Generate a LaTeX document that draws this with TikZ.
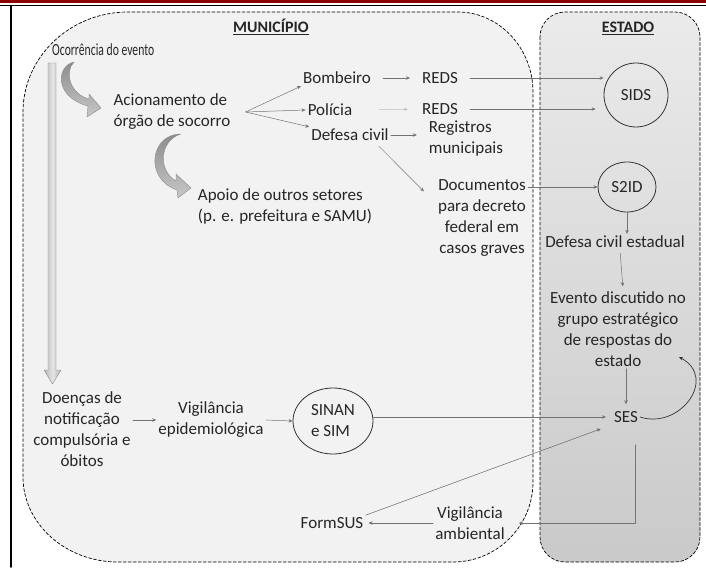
\documentclass[tikz,border=0pt]{standalone}
\usepackage{fontspec}
\setmainfont{Carlito}
\usetikzlibrary{arrows.meta,calc,shapes.geometric}

\begin{document}
\begin{tikzpicture}[x=1pt, y=-1pt, >={Stealth[length=4pt,width=3.5pt]},
	font=\fontsize{17}{21}\selectfont, line join=round, line cap=round,
	lbl/.style={text=black!85, inner sep=2pt},
	hdr/.style={lbl, font=\fontsize{16}{20}\selectfont\bfseries},
	flow/.style={->, draw=black!55, line width=0.5pt},
	sys/.style={lbl, draw=black!80, line width=0.8pt, ellipse, inner sep=1pt},
	fatarrow/.style={draw=black!45, line width=0.4pt}]
	\useasboundingbox (0,0) rectangle (706,567);
	% frame
	\fill[red!55!black] (0,0) rectangle (706,3.5);
	\draw[line width=1.5pt] (0,5.5) -- (706,5.5);
	\draw[line width=1.8pt] (11,5.5) -- (11,567);
	% areas
	\draw[densely dashed, line width=0.7pt, fill=black!5]
		(23,112) .. controls (23,57) and (70,12) .. (128,12) -- (458,12)
		.. controls (499,12) and (533,48) .. (533,92) -- (533,482)
		.. controls (533,526) and (497,562) .. (453,562) -- (118,562)
		.. controls (66,562) and (23,524) .. (23,477) -- cycle;
	\draw[densely dashed, line width=0.7pt, rounded corners=25pt, top color=black!8, bottom color=black!21]
		(540,12) rectangle (700,562);
	% big arrows
	\draw[fatarrow, left color=black!30, right color=black!30, middle color=black!10]
		(48,63) -- (56,63) -- (56,370) -- (61,370) -- (52.5,384) -- (44,370) -- (48,370) -- cycle;
	\draw[fatarrow, top color=black!45, bottom color=black!22]
		(74,62) .. controls (56,66) and (54,97) .. (88,106) -- (87,117) -- (101,108) -- (89,94) -- (89,99)
		.. controls (70,94) and (64,72) .. (74,62) -- cycle;
	\draw[fatarrow, top color=black!45, bottom color=black!22]
		(181,134) .. controls (150,134) and (144,179) .. (177,190) -- (178,198) -- (191,188) -- (176,174) -- (176,181)
		.. controls (157,170) and (160,140) .. (181,134) -- cycle;
	% titles
	\node[hdr] (mun) at (271,27) {\underline{MUNICÍPIO}};
	\node[hdr] (est) at (628,28) {\underline{ESTADO}};
	% municipio
	\node[lbl, anchor=west] (ocorr) at (50,50) {\resizebox{102pt}{\height}{Ocorrência do evento}};
	\node[lbl, align=left] (acion) at (172,112) {Acionamento de\\órgão de socorro};
	\node[lbl] (bomb) at (337,78) {Bombeiro};
	\node[lbl] (pol) at (330,110) {Polícia};
	\node[lbl] (defc) at (350,135) {Defesa civil};
	\node[lbl] (reds1) at (440,78) {REDS};
	\node[lbl] (reds2) at (440,109) {REDS};
	\node[lbl, align=left] (regmun) at (466,139) {Registros\\municipais};
	\node[lbl, align=left] (apoio) at (285,206) {Apoio de outros setores\\(p. e. prefeitura e SAMU)};
	\node[lbl, align=center] (docs) at (482,218) {Documentos\\para decreto\\federal em\\casos graves};
	\node[lbl, align=center] (doencas) at (82,429) {Doenças de\\notificação\\compulsória e\\óbitos};
	\node[lbl, align=center] (vigepi) at (211,420) {Vigilância\\epidemiológica};
	\node[sys, align=left, minimum width=80pt, minimum height=66pt] (sinan) at (333,421) {SINAN\\e SIM};
	\node[lbl] (formsus) at (332,523) {FormSUS};
	\node[lbl, align=center] (vigamb) at (470,523) {Vigilância\\ambiental};
	% estado
	\node[sys, circle, minimum size=64pt] (sids) at (636,95) {SIDS};
	\node[sys, minimum width=58pt, minimum height=50pt] (s2id) at (627,187) {S2ID};
	\node[lbl] (defest) at (615,242) {Defesa civil estadual};
	\node[lbl, align=center] (evento) at (618,329) {Evento discutido no\\grupo estratégico\\de respostas do\\estado};
	\node[lbl] (ses) at (626,417) {SES};
	% connectors
	\coordinate (fork) at ($(acion.east)+(13,0)$);
	\draw[flow] (fork) -- (bomb.south west);
	\draw[flow] (fork) -- (pol.west);
	\draw[flow] (fork) -- (defc.north west);
	\draw[flow, shorten <=10pt, shorten >=10pt] (bomb) -- (reds1);
	\draw[flow, draw=black!25, shorten <=25pt, shorten >=12pt] (pol) -- (reds2);
	\draw[flow, shorten <=10pt] (reds1.east) -- (reds1.east -| sids.west);
	\draw[flow, shorten <=10pt, shorten >=8pt] (reds2.east) -- (reds2.east -| sids.west);
	\draw[flow, shorten >=10pt] (defc.east) -- (defc.east -| regmun.west);
	\draw[flow] ($(defc.south east)+(-12,3)$) -- ($(docs.north west)+(-12,14)$);
	\draw[flow] (docs.east |- s2id.west) -- (s2id.west);
	\draw[flow] (s2id.south) -- (s2id.south |- defest.north);
	\draw[flow, shorten <=3pt, shorten >=3pt] ([xshift=5pt]defest.south) -- ([xshift=5pt]evento.north);
	\draw[flow, shorten >=5pt] (evento.south -| ses) -- (ses.north);
	\coordinate (loopend) at (679,357);
	\draw[flow, draw=black!80, line width=0.7pt] (ses.east) .. controls (680,430) and (718,378) .. (loopend);
	\draw[flow] (doencas.east |- vigepi.west) -- (vigepi.west);
	\draw[flow] (vigepi.east) -- (sinan.west);
	\draw[flow, shorten >=6pt] (sinan.east |- ses.west) -- (ses.west);
	\draw[flow, shorten <=20pt] ([xshift=9pt]ses.south) |- ([xshift=12pt]vigamb.east);
	\draw[flow, shorten >=3pt] (vigamb.west) -- (formsus.east);
	\draw[flow, draw=black!60, shorten >=12pt] (formsus.north east) -- (ses.south west);
\end{tikzpicture}
\end{document}
